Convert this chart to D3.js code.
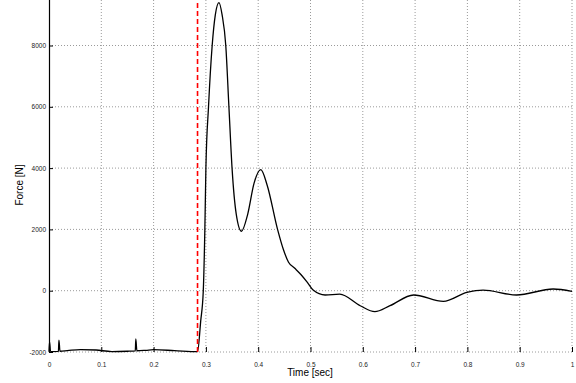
<!DOCTYPE html>
<html>
<head>
<meta charset="utf-8">
<script src="https://cdn.jsdelivr.net/npm/d3@7"></script>
<style>
  html, body { margin: 0; padding: 0; background: #fff; }
  svg { display: block; font-family: "Liberation Sans", Arial, sans-serif; }
</style>
</head>
<body>
<div id="chart"></div>
<script>
// time [sec] and force [N]
const timeSec = [
  0, 0.001, 0.003, 0.018, 0.019, 0.021, 0.035, 0.06, 0.09, 0.12, 0.15, 0.165, 0.166, 0.168,
  0.185, 0.2, 0.24, 0.284, 0.29, 0.295, 0.298, 0.3, 0.305, 0.312, 0.318, 0.325, 0.331,
  0.338, 0.344, 0.35, 0.358, 0.368, 0.38, 0.392, 0.405, 0.417, 0.437, 0.448, 0.458,
  0.47, 0.482, 0.494, 0.505, 0.528, 0.556, 0.595, 0.623, 0.652, 0.697, 0.754, 0.799, 0.83, 0.894,
  0.964, 1.0
];
const forceN = [
  -1990, -1670, -1985, -1980, -1610, -1975, -1955, -1920, -1935, -1985, -1975, -1965, -1570, -1960,
  -1945, -1925, -1955, -1990, -1000, 0, 2000, 4000, 6000, 8000, 9000, 9400, 9000,
  8000, 6000, 4000, 2500, 1940, 2500, 3500, 3950, 3450, 2000, 1350, 930,
  730, 520, 270, 20, -140, -110, -490, -685, -490, -140, -350, -55, 20, -140,
  55, -20
];
const impactTime = 0.284;

const xTicks = [0, 0.1, 0.2, 0.3, 0.4, 0.5, 0.6, 0.7, 0.8, 0.9, 1];
const yTicks = [-2000, 0, 2000, 4000, 6000, 8000];

const W = 576, H = 383;
const svg = d3.select("#chart").append("svg")
  .attr("width", W)
  .attr("height", H);

const x = d3.scaleLinear().domain([0, 1]).range([49, 572]);
const y = d3.scaleLinear().domain([-2000, 10000]).range([352, 352 - 6 * 61.3]);

// dotted grid
svg.append("g")
  .selectAll("line")
  .data(xTicks.slice(1))
  .join("line")
  .attr("x1", d => x(d)).attr("x2", d => x(d))
  .attr("y1", y(-2000)).attr("y2", 0)
  .attr("stroke", "#9a9a9a")
  .attr("stroke-width", 1)
  .attr("stroke-dasharray", "1,2");

svg.append("g")
  .selectAll("line")
  .data(yTicks)
  .join("line")
  .attr("x1", x(0)).attr("x2", x(1))
  .attr("y1", d => y(d)).attr("y2", d => y(d))
  .attr("stroke", "#9a9a9a")
  .attr("stroke-width", 1)
  .attr("stroke-dasharray", "1,2");

// X axis, ticks pointing inward
const xAxis = svg.append("g")
  .attr("transform", `translate(0,${y(-2000)})`)
  .call(d3.axisBottom(x).tickValues(xTicks).tickSizeInner(-5).tickSizeOuter(0).tickPadding(10)
    .tickFormat(d => d === 0 || d === 1 ? d3.format("d")(d) : d3.format(".1f")(d)));
xAxis.select(".domain").remove();
xAxis.selectAll("line").attr("stroke", "#000");
xAxis.selectAll("text").attr("font-size", 6.5).attr("fill", "#222")
  .attr("font-family", "'Liberation Sans', Arial, sans-serif");

// Y axis
const yAxis = svg.append("g")
  .attr("transform", `translate(${x(0)},0)`)
  .call(d3.axisLeft(y).tickValues(yTicks).tickSizeInner(-4).tickSizeOuter(0).tickPadding(3)
    .tickFormat(d => d < 0 ? "-" + Math.abs(d) : d));
yAxis.select(".domain").attr("stroke", "#000").attr("stroke-width", 1.2);
yAxis.selectAll("line").attr("stroke", "#000");
yAxis.selectAll("text").attr("font-size", 6.5).attr("fill", "#222")
  .attr("font-family", "'Liberation Sans', Arial, sans-serif");

// force curve
const pts = timeSec.map((t, i) => [t, forceN[i]]);
const line = d3.line()
  .x(d => x(d[0]))
  .y(d => y(d[1]))
  .curve(d3.curveMonotoneX);

svg.append("path")
  .datum(pts)
  .attr("fill", "none")
  .attr("stroke", "#000")
  .attr("stroke-width", 1.3)
  .attr("d", line);

// impact marker
svg.append("line")
  .attr("x1", x(impactTime)).attr("x2", x(impactTime))
  .attr("y1", y(-2000)).attr("y2", 0)
  .attr("stroke", "#ff0000")
  .attr("stroke-width", 1.6)
  .attr("stroke-dasharray", "5,3");

// axis titles
svg.append("text")
  .attr("x", 310).attr("y", 376)
  .attr("text-anchor", "middle")
  .attr("font-size", 10)
  .text("Time [sec]");

svg.append("text")
  .attr("transform", "translate(23,185) rotate(-90)")
  .attr("text-anchor", "middle")
  .attr("font-size", 10)
  .text("Force [N]");
</script>
</body>
</html>
